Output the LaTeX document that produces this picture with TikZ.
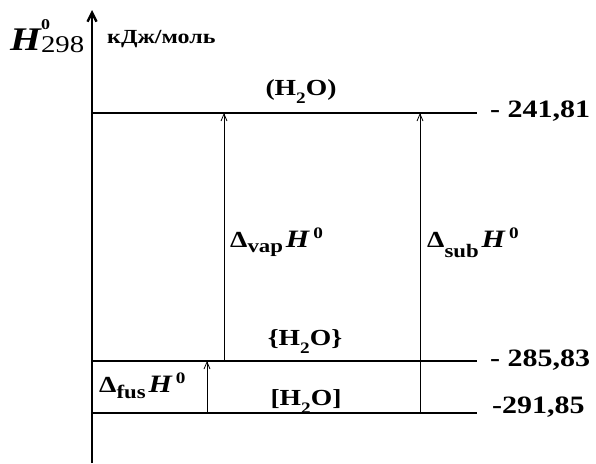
\documentclass[tikz,border=0pt]{standalone}
\usepackage{fontspec}
\setmainfont[FakeStretch=1.2]{Liberation Serif}
\usetikzlibrary{arrows.meta}

% подписи: индексы и степени
\newcommand{\fsz}[1]{\fontsize{#1}{#1}\selectfont}
\newcommand{\water}[2]{#1H\raisebox{-8pt}{\fsz{16}2}O#2}
\newcommand{\dHlab}[2]{Δ\raisebox{#2}{\fsz{19}#1}\hspace{3pt}{\fsz{25}\itshape H}\hspace{4pt}\raisebox{9pt}{\fsz{16}0}}

\tikzset{
  level/.style={line width=1.3pt},
  trans/.style={line width=0.8pt,-{Straight Barb[length=7pt,width=6pt]}},
  lbl/.style={font=\fsz{23}\bfseries, inner sep=0pt},
  val/.style={font=\fsz{25}\bfseries, inner sep=0pt, anchor=base west},
}

\begin{document}
\begin{tikzpicture}[x=1pt,y=-1pt]
    \useasboundingbox (0,0) rectangle (596,463);

    % уровни энтальпии (в пикселях сверху)
    \def\xa{92}
    \def\xb{477}
    \def\yg{113}
    \def\yl{361}
    \def\ys{413}

    % ось
    \coordinate (axbot) at (\xa,463);
    \coordinate (axtop) at (\xa,10);
    \draw[line width=2.4pt,-{Straight Barb[length=9pt,width=9pt]}] (axbot) -- (axtop);
    \node[anchor=base west,inner sep=0pt] (hlab) at (10,50)
        {\fsz{33}\bfseries\itshape H\rlap{\raisebox{21pt}{\fsz{15}\upshape 0}}\raisebox{-2pt}{\fsz{24}\mdseries\upshape 298}};
    \node[anchor=base west,font=\fsz{20}\bfseries,inner sep=0pt] (unit) at (107,43) {кДж/моль};

    % уровни
    \coordinate (g1) at (\xa,\yg); \coordinate (g2) at (\xb,\yg);
    \coordinate (l1) at (\xa,\yl); \coordinate (l2) at (\xb,\yl);
    \coordinate (s1) at (\xa,\ys); \coordinate (s2) at (\xb,\ys);
    \draw[level] (g1) -- (g2);
    \draw[level] (l1) -- (l2);
    \draw[level] (s1) -- (s2);

    % значения
    \node[val] (vg) at (490,117) {- 241,81};
    \node[val] (vl) at (490,366) {- 285,83};
    \node[val] (vs) at (492,413) {-291,85};

    % состояния
    \node[lbl,anchor=base] (gas) at (301,95) {\water{(}{)}};
    \node[lbl,anchor=base] (liq) at (305,345) {\water{\{}{\}}};
    \node[lbl,anchor=base] (sol) at (306,405) {\water{[}{]}};

    % переходы
    \coordinate (vap1) at (224,\yl); \coordinate (vap2) at (224,\yg);
    \coordinate (sub1) at (420,\ys); \coordinate (sub2) at (420,\yg);
    \coordinate (fus1) at (207,\ys); \coordinate (fus2) at (207,\yl);
    \draw[trans] (vap1) -- (vap2);
    \draw[trans] (sub1) -- (sub2);
    \draw[trans] (fus1) -- (fus2);
    \node[lbl,anchor=base west] (dvap) at (230,247) {\dHlab{vap}{-5pt}};
    \node[lbl,anchor=base west] (dsub) at (427,247) {\dHlab{sub}{-10pt}};
    \node[lbl,anchor=base west] (dfus) at (99,392) {\dHlab{fus}{-6pt}};

\end{tikzpicture}
\end{document}
